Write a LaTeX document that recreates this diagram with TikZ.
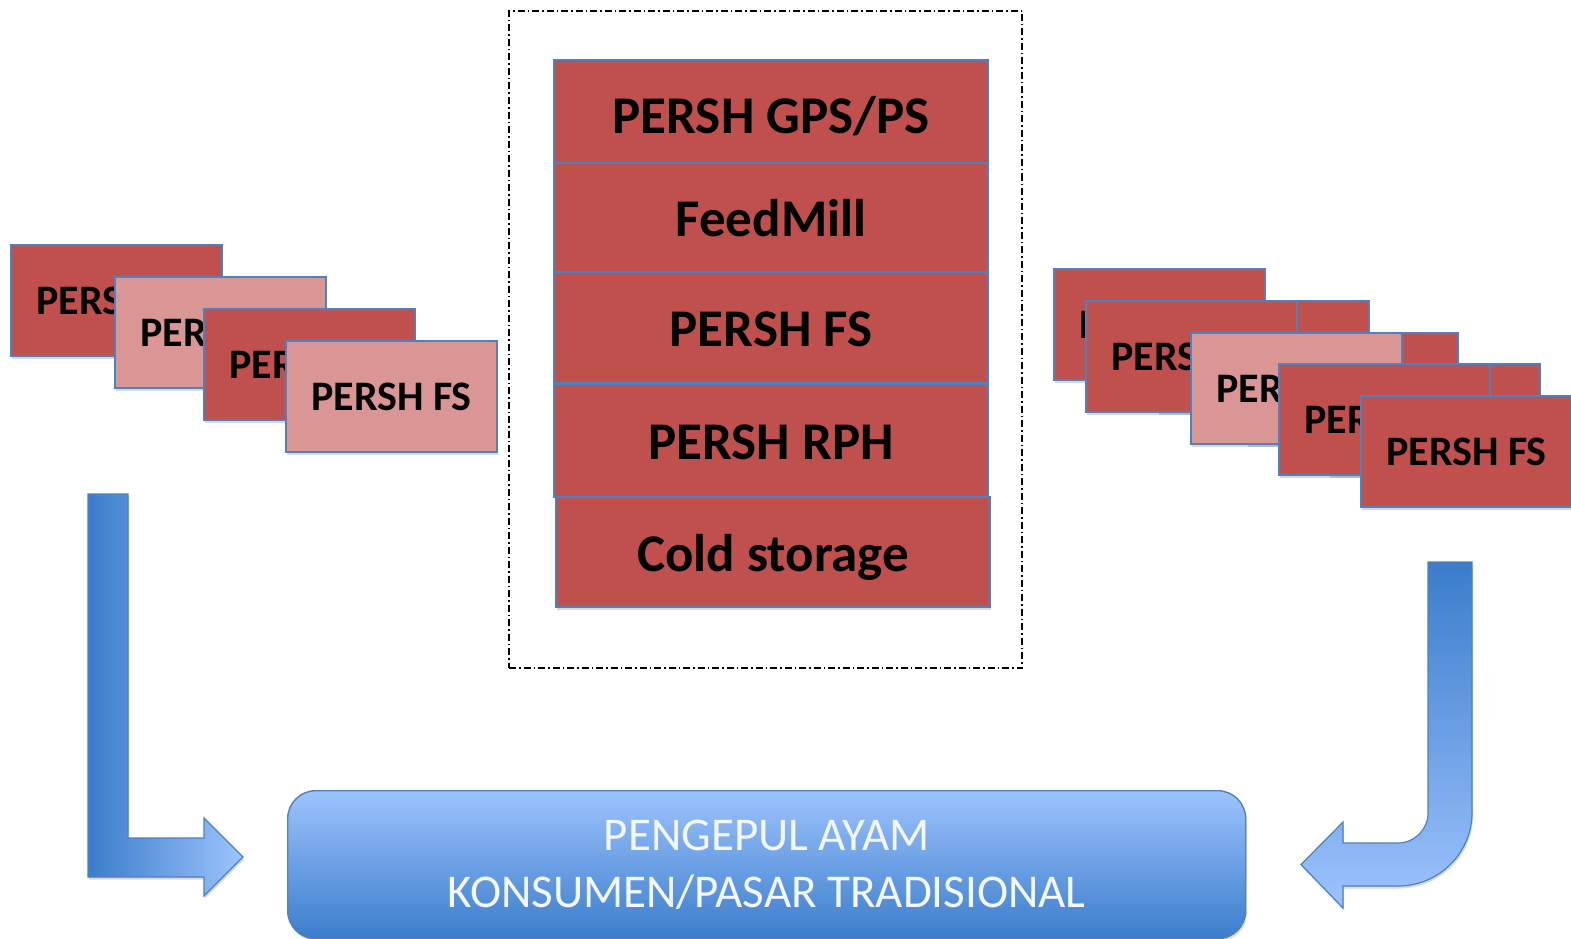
\documentclass[tikz,border=0pt]{standalone}
\usepackage{fontspec}
\setmainfont{Carlito}
\usetikzlibrary{shadows}
\definecolor{redfill}{HTML}{C0504D}
\definecolor{pinkfill}{HTML}{D99694}
\definecolor{edgeblue}{HTML}{4F81BD}
\definecolor{darkblue}{HTML}{3A7DCB}
\definecolor{lightblue}{HTML}{9DC3FD}
\definecolor{paletext}{HTML}{F4F8FE}
\begin{document}
\begin{tikzpicture}[x=1pt,y=-1pt,
  softshadow/.style={drop shadow={shadow xshift=1pt,shadow yshift=-2.5pt,opacity=0.15,fill=black}},
  box/.style={rectangle,draw=edgeblue,line width=1.6pt,inner sep=0pt,outer sep=0pt,anchor=north west,text depth=0pt,softshadow},
  midbox/.style={box,fill=redfill,minimum width=434pt,minimum height=#1,text height=38pt,font=\fontsize{53}{60}\selectfont\bfseries},
  darkcard/.style={box,fill=redfill,minimum width=211pt,minimum height=111pt,text height=28pt,font=\fontsize{42}{50}\selectfont\bfseries},
  pinkcard/.style={darkcard,fill=pinkfill},
  blockarrow/.style={draw=edgeblue,line width=1.2pt,line join=miter,softshadow},
  frame/.style={rectangle,draw=black,line width=1.5pt,dash pattern=on 7pt off 3pt on 1.5pt off 3pt,inner sep=0pt,outer sep=0pt,anchor=north west}
]
\useasboundingbox[fill=white] (0,0) rectangle (1571,939);

% dashed frame
\node[frame,minimum width=513pt,minimum height=657pt] (grp) at (509,11) {};

% central stack
\node[midbox=103pt,text height=44pt] (gps)  at (554,60)  {PERSH GPS/PS};
\node[midbox=109pt] (feed) at (554,163) {FeedMill};
\node[midbox=111pt] (fsc)  at (554,272) {PERSH FS};
\node[midbox=113pt] (rph)  at (554,384) {PERSH RPH};
\node[midbox=110pt] (cold) at (556,497) {Cold storage};

% left stack
\node[darkcard] (l1) at (11,245)  {PERSH FS};
\node[pinkcard] (l2) at (115,277) {PERSH FS};
\node[darkcard] (l3) at (204,309) {PERSH FS};
\node[pinkcard] (l4) at (286,341) {PERSH FS};

% right stack
\node[darkcard] (r1) at (1054,269) {PERSH FS};
\node[darkcard] (h2) at (1158,301) {};
\node[darkcard] (r2) at (1086,301) {PERSH FS};
\node[darkcard] (h3) at (1247,333) {};
\node[pinkcard] (r3) at (1191,333) {PERSH FS};
\node[darkcard] (h4) at (1329,364) {};
\node[darkcard] (r4) at (1279,364) {PERSH FS};
\node[darkcard] (r5) at (1361,396) {PERSH FS};

% left block arrow
\path[blockarrow,left color=darkblue,right color=lightblue]
  (88,494) -- (128,494) -- (128,838) -- (204,838) -- (204,818) -- (243,857)
  -- (204,896) -- (204,877) -- (88,877) -- cycle;

% right block arrow
\path[blockarrow,top color=darkblue,bottom color=lightblue]
  (1428,562) -- (1472,562) -- (1472,813)
  .. controls (1472,853) and (1439,886) .. (1398,886)
  -- (1343,886) -- (1343,908) -- (1301,864.5) -- (1343,822) -- (1343,843)
  -- (1398,843) .. controls (1414.5,843) and (1428,829.5) .. (1428,813) -- cycle;

% destination box
\node[rectangle,rounded corners=28pt,draw=edgeblue,line width=1.4pt,
      top color=lightblue,bottom color=darkblue,softshadow,
      minimum width=958pt,minimum height=148pt,anchor=north west,
      align=center,text=paletext,font=\fontsize{47}{57}\selectfont]
  (dest) at (287,790) {PENGEPUL AYAM\\KONSUMEN/PASAR TRADISIONAL};
\end{tikzpicture}
\end{document}
